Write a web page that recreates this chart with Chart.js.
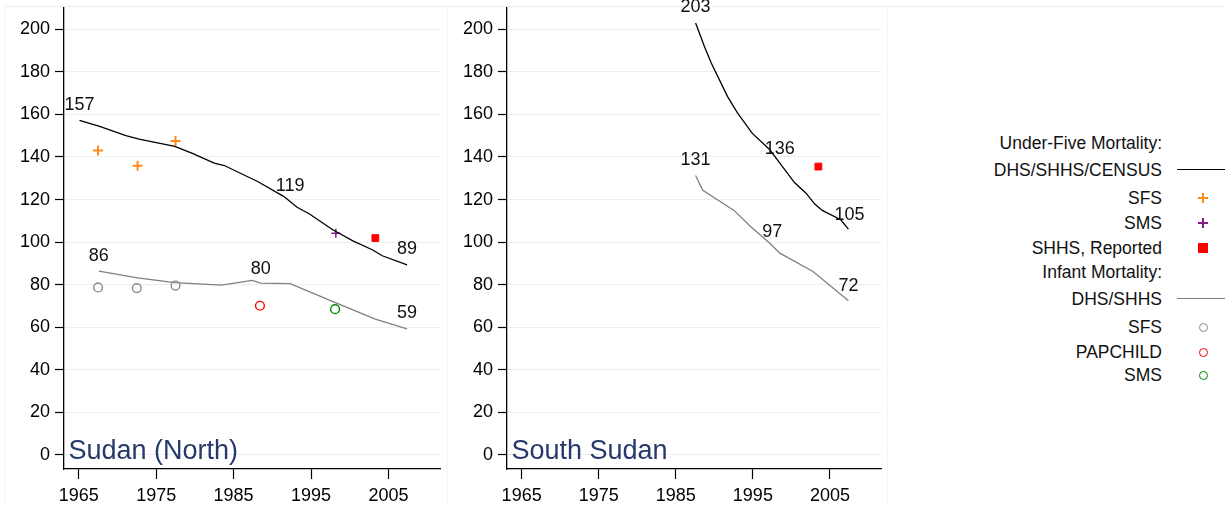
<!DOCTYPE html>
<html>
<head>
<meta charset="utf-8">
<script src="https://cdn.jsdelivr.net/npm/chart.js@4.4.0/dist/chart.umd.min.js"></script>
<style>
    body { margin: 0; background: #fff; font-family: "Liberation Sans", Arial, sans-serif; }
    #wrap { position: relative; width: 1225px; height: 507px; overflow: hidden; }
    .panel { position: absolute; top: 0; height: 507px; }
    .frame { position: absolute; top: 6px; height: 501px; border-top: 1px solid #e9f0f1; border-left: 1px solid #f1f5f6; border-right: 1px solid #f1f5f6; }
    .leg { position: absolute; right: 63px; font-size: 17.5px; line-height: 20px; color: #111; white-space: nowrap; text-align: right; }
    .sym { position: absolute; }
</style>
</head>
<body>
<div id="wrap">
    <div class="frame" style="left:4px;width:442px"></div>
    <div class="frame" style="left:447px;width:440px;border-left:none"></div>
    <div class="frame" style="left:888px;width:340px;border-left:none;border-right:none"></div>
    <div class="panel" style="left:0;width:447px"><canvas id="north"></canvas></div>
    <div class="panel" style="left:447px;width:440px"><canvas id="south"></canvas></div>
    <div id="legend"></div>
</div>
<script>
// x ticks and y ticks
const xTicks = [1965, 1975, 1985, 1995, 2005];
const yTicks = [0, 20, 40, 60, 80, 100, 120, 140, 160, 180, 200];

// Sudan (North) - under-five mortality, DHS/SHHS/CENSUS
const northU5Years = [1965.1, 1967.7, 1971.1, 1972.8, 1977.4, 1979.6, 1982.5, 1983.8, 1988.1, 1991.5, 1993.2, 1994.8, 1997.8, 2000.4, 2002.9, 2004.2, 2007.4];
const northU5Values = [157.2, 154.4, 150, 148.4, 145, 141.8, 137.1, 136, 128.5, 121.4, 116.4, 113.2, 105.8, 100.6, 96.4, 93.6, 89.3];
// Sudan (North) - infant mortality, DHS/SHHS
const northIMRYears = [1967.6, 1972.6, 1977.4, 1978.7, 1983.4, 1987.4, 1988.5, 1992.3, 1998.3, 2003.3, 2007.4];
const northIMRValues = [86.4, 83.2, 81.0, 80.7, 79.8, 82, 80.7, 80.5, 71.3, 63.8, 59.2];
// Sudan (North) - survey points
const northSfsU5Years = [1967.5, 1972.6, 1977.5];
const northSfsU5Values = [143.1, 135.9, 147.5];
const northSmsU5Years = [1998.2];
const northSmsU5Values = [104.2];
const northShhsYears = [2003.3];
const northShhsValues = [101.9];
const northSfsIMRYears = [1967.5, 1972.5, 1977.5];
const northSfsIMRValues = [78.7, 78.4, 79.6];
const northPapYears = [1988.4];
const northPapValues = [70.1];
const northSmsIMRYears = [1998.1];
const northSmsIMRValues = [68.5];
// Sudan (North) - value labels
const northLabelYears = [1965.1, 1992.3, 2007.4, 1967.6, 1988.5, 2007.4];
const northLabelValues = [157, 119, 89, 86, 80, 59];

// South Sudan - under-five mortality
const southU5Years = [1987.57, 1988.7, 1989.6, 1991.7, 1993.0, 1994.9, 1997.2, 1998.5, 2000.4, 2001.9, 2003.0, 2004.0, 2006.4, 2007.4];
const southU5Values = [203, 192, 184.2, 168.5, 160.7, 151.2, 143.4, 137.1, 128, 123, 118, 114.9, 110.5, 106.1];
// South Sudan - infant mortality
const southIMRYears = [1987.57, 1988.5, 1992.55, 1994.7, 1997.2, 1998.5, 2002.8, 2007.4];
const southIMRValues = [131.3, 124.3, 114.9, 107.3, 99.5, 94.8, 86.2, 72.5];
const southShhsYears = [2003.5];
const southShhsValues = [135.5];
// South Sudan - value labels
const southLabelYears = [1987.57, 1998.5, 2007.55, 1987.57, 1997.5, 2007.4];
const southLabelValues = [203, 136, 105, 131, 97, 72];

// legend
const legendLabels = ['Under-Five Mortality:', 'DHS/SHHS/CENSUS', 'SFS', 'SMS', 'SHHS, Reported', 'Infant Mortality:', 'DHS/SHHS', 'SFS', 'PAPCHILD', 'SMS'];
const legendRowsY = [143, 170, 198, 223, 248, 272, 299, 327, 352, 375];

const FONT = '"Liberation Sans", Arial, sans-serif';
const TICK_FONT = { family: FONT, size: 18 };
Chart.defaults.font.family = FONT;
Chart.defaults.color = '#000';

function toXY(xs, ys) {
    return xs.map((x, i) => ({ x: x, y: ys[i] }));
}

function lineSet(xs, ys, color) {
    return { data: toXY(xs, ys), showLine: true, borderColor: color, borderWidth: 1.3, pointRadius: 0, tension: 0 };
}

function markSet(xs, ys, style, color, radius, width, fill) {
    return { data: toXY(xs, ys), showLine: false, pointStyle: style, pointRadius: radius,
        borderColor: color, borderWidth: width, backgroundColor: fill || 'rgba(0,0,0,0)' };
}

// value labels and panel title
const panelText = {
    id: 'panelText',
    afterDatasetsDraw(chart, args, opts) {
        const ctx = chart.ctx;
        const x = chart.scales.x, y = chart.scales.y;
        ctx.save();
        ctx.font = '18px ' + FONT;
        ctx.fillStyle = '#111';
        ctx.textAlign = 'center';
        ctx.textBaseline = 'middle';
        opts.years.forEach((yr, i) => {
            ctx.fillText(String(opts.values[i]), x.getPixelForValue(yr), y.getPixelForValue(opts.values[i]) - 16);
        });
        ctx.font = '27px ' + FONT;
        ctx.fillStyle = '#27396b';
        ctx.textAlign = 'left';
        ctx.textBaseline = 'alphabetic';
        ctx.fillText(opts.title, chart.chartArea.left + 4.5, 459);
        ctx.restore();
    }
};

function makeChart(id, datasets, labelYears, labelValues, title, yWidth, padRight) {
    return new Chart(document.getElementById(id), {
        type: 'scatter',
        data: { datasets: datasets },
        options: {
            responsive: true,
            maintainAspectRatio: false,
            animation: false,
            layout: { padding: { top: 8, right: padRight, left: 0, bottom: 0 } },
            plugins: {
                legend: { display: false },
                tooltip: { enabled: false },
                panelText: { years: labelYears, values: labelValues, title: title }
            },
            scales: {
                x: {
                    type: 'linear',
                    min: 1963.1,
                    max: 2011.65,
                    afterBuildTicks: s => { s.ticks = xTicks.map(v => ({ value: v })); },
                    afterFit: s => { s.height = 38; s.paddingLeft = 0; s.paddingRight = 0; },
                    grid: { drawOnChartArea: false, tickColor: '#000', tickLength: 10, tickWidth: 1.2 },
                    border: { color: '#000', width: 1.3 },
                    ticks: { font: TICK_FONT, color: '#000', padding: 6, maxRotation: 0, autoSkip: false, callback: v => String(v) }
                },
                y: {
                    min: -6.6,
                    max: 210,
                    afterBuildTicks: s => { s.ticks = yTicks.map(v => ({ value: v })); },
                    afterFit: s => { s.width = yWidth; s.paddingTop = 0; s.paddingBottom = 0; },
                    grid: { color: '#e8f0f2', lineWidth: 1, tickColor: '#000', tickLength: 9, tickWidth: 1.2 },
                    border: { color: '#000', width: 1.3 },
                    ticks: { font: TICK_FONT, color: '#000', padding: 5, autoSkip: false, callback: v => String(v) }
                }
            }
        },
        plugins: [panelText]
    });
}

makeChart('north', [
    lineSet(northU5Years, northU5Values, '#000'),
    lineSet(northIMRYears, northIMRValues, '#808080'),
    markSet(northSfsU5Years, northSfsU5Values, 'cross', '#ff8a18', 5, 2),
    markSet(northSmsU5Years, northSmsU5Values, 'cross', '#8a1a8a', 4.5, 1.5),
    markSet(northShhsYears, northShhsValues, 'rect', '#ff0000', 4.8, 1, '#ff0000'),
    markSet(northSfsIMRYears, northSfsIMRValues, 'circle', '#8c8c8c', 4.4, 1.4),
    markSet(northPapYears, northPapValues, 'circle', '#ff0000', 4.4, 1.4),
    markSet(northSmsIMRYears, northSmsIMRValues, 'circle', '#008a00', 4.4, 1.4)
], northLabelYears, northLabelValues, 'Sudan (North)', 64, 2);

makeChart('south', [
    lineSet(southU5Years, southU5Values, '#000'),
    lineSet(southIMRYears, southIMRValues, '#808080'),
    markSet(southShhsYears, southShhsValues, 'rect', '#ff0000', 4.8, 1, '#ff0000')
], southLabelYears, southLabelValues, 'South Sudan', 60, 0);

// legend (text + keys)
const legend = document.getElementById('legend');
const keys = [
    null,
    { kind: 'line', color: '#000' },
    { kind: 'plus', color: '#ff8a18', w: 2 },
    { kind: 'plus', color: '#8a1a8a', w: 1.5 },
    { kind: 'square', color: '#ff0000' },
    null,
    { kind: 'line', color: '#808080' },
    { kind: 'circle', color: '#8c8c8c' },
    { kind: 'circle', color: '#ff0000' },
    { kind: 'circle', color: '#008a00' }
];
legendLabels.forEach((txt, i) => {
    const cy = legendRowsY[i];
    const d = document.createElement('div');
    d.className = 'leg';
    d.style.top = (cy - 10) + 'px';
    d.textContent = txt;
    legend.appendChild(d);
    const k = keys[i];
    if (!k) return;
    const s = document.createElement('div');
    s.className = 'sym';
    if (k.kind === 'line') {
        s.style.cssText = `left:1177px;top:${cy - 0.6}px;width:48px;height:0;border-top:1.3px solid ${k.color}`;
    } else if (k.kind === 'plus') {
        s.style.cssText = `left:1198px;top:${cy - 5}px;width:10px;height:10px`;
        s.innerHTML = `<div style="position:absolute;left:0;top:${5 - k.w / 2}px;width:10px;height:${k.w}px;background:${k.color}"></div>` +
            `<div style="position:absolute;top:0;left:${5 - k.w / 2}px;height:10px;width:${k.w}px;background:${k.color}"></div>`;
    } else if (k.kind === 'square') {
        s.style.cssText = `left:1198px;top:${cy - 5}px;width:10px;height:10px;background:${k.color}`;
    } else {
        s.style.cssText = `left:1198.5px;top:${cy - 4.5}px;width:7px;height:7px;border:1.3px solid ${k.color};border-radius:50%`;
    }
    legend.appendChild(s);
});
</script>
</body>
</html>
